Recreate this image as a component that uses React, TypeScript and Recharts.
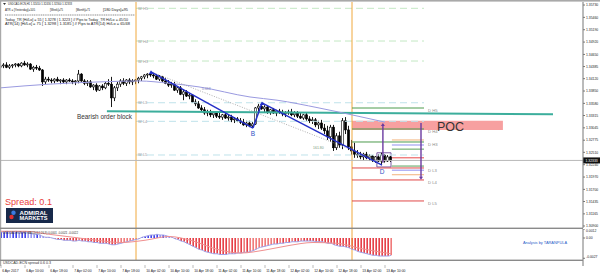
import React from 'react'
import { ComposedChart, Bar, Line, XAxis, YAxis, ReferenceLine, ReferenceArea, ReferenceDot, Cell } from 'recharts'

const FONT = '"Liberation Sans", Arial, sans-serif'

// bar index range shown on the x axis (plot is 583px wide, 3px per bar)
const X_DOMAIN: [number, number] = [2 / 3, 195]
const PRICE_DOMAIN: [number, number] = [1.30856, 1.35796]
const MACD_DOMAIN: [number, number] = [-0.00293, 0.0012]
const FIRST_BAR = 1

// USDCAD H1 candles: [open, high, low, close]
const candles: number[][] = [
  [1.3437, 1.3444, 1.3433, 1.3440], [1.3440, 1.3446, 1.3435, 1.3442], [1.3442, 1.3448, 1.3435, 1.3437], [1.3437, 1.3444, 1.3433, 1.3440],
  [1.3440, 1.3444, 1.3435, 1.3442], [1.3442, 1.3446, 1.3437, 1.3444], [1.3444, 1.3446, 1.3437, 1.3440], [1.3440, 1.3448, 1.3437, 1.3446],
  [1.3446, 1.3451, 1.3440, 1.3442], [1.3442, 1.3448, 1.3437, 1.3444], [1.3444, 1.3446, 1.3431, 1.3433], [1.3433, 1.3440, 1.3427, 1.3437],
  [1.3437, 1.3442, 1.3431, 1.3435], [1.3435, 1.3440, 1.3429, 1.3431], [1.3431, 1.3433, 1.3396, 1.3405], [1.3405, 1.3416, 1.3400, 1.3411],
  [1.3411, 1.3416, 1.3405, 1.3409], [1.3409, 1.3413, 1.3402, 1.3407], [1.3407, 1.3413, 1.3402, 1.3411], [1.3411, 1.3416, 1.3405, 1.3407],
  [1.3407, 1.3411, 1.3400, 1.3409], [1.3409, 1.3413, 1.3402, 1.3405], [1.3405, 1.3411, 1.3400, 1.3409], [1.3409, 1.3413, 1.3405, 1.3407],
  [1.3407, 1.3411, 1.3400, 1.3405], [1.3405, 1.3409, 1.3398, 1.3407], [1.3407, 1.3431, 1.3402, 1.3422], [1.3422, 1.3424, 1.3405, 1.3407],
  [1.3407, 1.3411, 1.3398, 1.3402], [1.3402, 1.3409, 1.3396, 1.3405], [1.3405, 1.3409, 1.3392, 1.3394], [1.3394, 1.3400, 1.3387, 1.3398],
  [1.3398, 1.3402, 1.3383, 1.3387], [1.3387, 1.3398, 1.3385, 1.3396], [1.3396, 1.3400, 1.3387, 1.3392], [1.3392, 1.3405, 1.3389, 1.3402],
  [1.3402, 1.3411, 1.3396, 1.3400], [1.3400, 1.3416, 1.3350, 1.3370], [1.3370, 1.3396, 1.3363, 1.3392], [1.3392, 1.3405, 1.3385, 1.3400],
  [1.3400, 1.3411, 1.3394, 1.3407], [1.3407, 1.3413, 1.3398, 1.3402], [1.3402, 1.3411, 1.3396, 1.3409], [1.3409, 1.3413, 1.3400, 1.3405],
  [1.3405, 1.3411, 1.3398, 1.3407], [1.3407, 1.3411, 1.3400, 1.3409], [1.3409, 1.3416, 1.3402, 1.3413], [1.3413, 1.3418, 1.3407, 1.3416],
  [1.3416, 1.3422, 1.3411, 1.3420], [1.3420, 1.3424, 1.3413, 1.3422], [1.3422, 1.3427, 1.3416, 1.3420], [1.3420, 1.3424, 1.3413, 1.3418],
  [1.3418, 1.3422, 1.3409, 1.3411], [1.3411, 1.3420, 1.3407, 1.3416], [1.3416, 1.3418, 1.3405, 1.3407], [1.3407, 1.3413, 1.3400, 1.3402],
  [1.3402, 1.3409, 1.3394, 1.3398], [1.3398, 1.3405, 1.3392, 1.3400], [1.3400, 1.3405, 1.3385, 1.3387], [1.3387, 1.3396, 1.3381, 1.3392],
  [1.3392, 1.3396, 1.3376, 1.3378], [1.3378, 1.3389, 1.3365, 1.3383], [1.3383, 1.3387, 1.3372, 1.3374], [1.3374, 1.3381, 1.3367, 1.3376],
  [1.3376, 1.3378, 1.3359, 1.3361], [1.3361, 1.3367, 1.3352, 1.3357], [1.3357, 1.3363, 1.3346, 1.3348], [1.3348, 1.3354, 1.3339, 1.3344],
  [1.3344, 1.3350, 1.3333, 1.3337], [1.3337, 1.3344, 1.3330, 1.3339], [1.3339, 1.3344, 1.3328, 1.3333], [1.3333, 1.3341, 1.3326, 1.3337],
  [1.3337, 1.3339, 1.3326, 1.3330], [1.3330, 1.3337, 1.3324, 1.3328], [1.3328, 1.3335, 1.3322, 1.3333], [1.3333, 1.3337, 1.3324, 1.3326],
  [1.3326, 1.3333, 1.3320, 1.3328], [1.3328, 1.3333, 1.3317, 1.3322], [1.3322, 1.3328, 1.3315, 1.3324], [1.3324, 1.3328, 1.3317, 1.3320],
  [1.3320, 1.3326, 1.3313, 1.3317], [1.3317, 1.3324, 1.3309, 1.3311], [1.3311, 1.3320, 1.3306, 1.3315], [1.3315, 1.3320, 1.3306, 1.3309],
  [1.3309, 1.3317, 1.3304, 1.3313], [1.3313, 1.3350, 1.3311, 1.3348], [1.3348, 1.3357, 1.3341, 1.3352], [1.3352, 1.3359, 1.3344, 1.3346],
  [1.3346, 1.3354, 1.3337, 1.3350], [1.3350, 1.3352, 1.3335, 1.3339], [1.3339, 1.3346, 1.3333, 1.3344], [1.3344, 1.3348, 1.3335, 1.3337],
  [1.3337, 1.3344, 1.3330, 1.3341], [1.3341, 1.3346, 1.3335, 1.3339], [1.3339, 1.3344, 1.3330, 1.3335], [1.3335, 1.3341, 1.3328, 1.3337],
  [1.3337, 1.3344, 1.3333, 1.3339], [1.3339, 1.3346, 1.3330, 1.3333], [1.3333, 1.3341, 1.3328, 1.3337], [1.3337, 1.3341, 1.3326, 1.3330],
  [1.3330, 1.3337, 1.3324, 1.3326], [1.3326, 1.3335, 1.3322, 1.3333], [1.3333, 1.3337, 1.3320, 1.3324], [1.3324, 1.3330, 1.3315, 1.3320],
  [1.3320, 1.3328, 1.3313, 1.3322], [1.3322, 1.3326, 1.3306, 1.3311], [1.3311, 1.3320, 1.3302, 1.3315], [1.3315, 1.3322, 1.3300, 1.3304],
  [1.3304, 1.3313, 1.3291, 1.3298], [1.3298, 1.3309, 1.3278, 1.3285], [1.3285, 1.3311, 1.3274, 1.3306], [1.3306, 1.3311, 1.3254, 1.3261],
  [1.3261, 1.3293, 1.3256, 1.3287], [1.3287, 1.3296, 1.3261, 1.3267], [1.3267, 1.3326, 1.3258, 1.3320], [1.3320, 1.3328, 1.3291, 1.3300],
  [1.3300, 1.3309, 1.3256, 1.3263], [1.3263, 1.3278, 1.3245, 1.3254], [1.3254, 1.3272, 1.3239, 1.3247], [1.3247, 1.3256, 1.3239, 1.3245],
  [1.3245, 1.3252, 1.3236, 1.3241], [1.3241, 1.3250, 1.3234, 1.3247], [1.3247, 1.3252, 1.3236, 1.3239], [1.3239, 1.3247, 1.3232, 1.3243],
  [1.3243, 1.3245, 1.3230, 1.3234], [1.3234, 1.3243, 1.3228, 1.3241], [1.3241, 1.3247, 1.3230, 1.3232], [1.3232, 1.3250, 1.3223, 1.3245],
  [1.3245, 1.3247, 1.3228, 1.3232], [1.3232, 1.3245, 1.3230, 1.3241], [1.3241, 1.3243, 1.3230, 1.32333],
]

// MACD histogram, one value per candle
const macdHist = [
  0.0008, 0.0008, 0.0009, 0.0008, 0.0008, 0.0009, 0.0008, 0.0008, 0.0008, 0.0007,
  0.0006, 0.0005, 0.0005, 0.0004, 0.0002, 0.0001, 0.0001, 0.0000,
  -0.0001, -0.0002, -0.0002, -0.0003, -0.0003, -0.0003, -0.0004, -0.0004, -0.0003, -0.0004,
  -0.0004, -0.0005, -0.0005, -0.0006, -0.0006, -0.0007, -0.0007, -0.0007, -0.0008, -0.0009,
  -0.0009, -0.0008, -0.0007, -0.0006, -0.0005, -0.0004, -0.0003, -0.0002,
  -0.0001, 0.0001, 0.0002, 0.0003, 0.0004, 0.0004, 0.0005, 0.0004, 0.0004, 0.0003, 0.0002, 0.0001,
  -0.0001, -0.0002, -0.0004, -0.0005, -0.0007, -0.0009, -0.0011, -0.0013,
  -0.0015, -0.0016, -0.0018, -0.0019, -0.0020, -0.0021, -0.0021, -0.0022, -0.0022, -0.0022, -0.0021, -0.0021,
  -0.0021, -0.0020, -0.0020, -0.0019, -0.0019, -0.0018, -0.0017, -0.0015, -0.0013, -0.0012, -0.0011, -0.0010, -0.0009, -0.0008,
  -0.0008, -0.0007, -0.0007, -0.0006, -0.0006, -0.0005, -0.0005, -0.0005, -0.0004, -0.0004, -0.0004, -0.0004, -0.0004,
  -0.0005, -0.0005, -0.0005, -0.0006, -0.0007,
  -0.0007, -0.0009, -0.0010, -0.0011, -0.0011, -0.0012, -0.0013, -0.0015,
  -0.0016, -0.0018, -0.0019, -0.0020, -0.0021, -0.0022, -0.0023, -0.0023, -0.0024, -0.0024, -0.0024, -0.0024, -0.0023,
]

const macdSignal = [
  { i: 1, v: 0.0009 }, { i: 9, v: 0.0009 }, { i: 17, v: 0.0005 }, { i: 25, v: 0.0001 }, { i: 33, v: -0.0003 },
  { i: 41, v: -0.0006 }, { i: 49, v: -0.0003 }, { i: 57, v: 0.0002 }, { i: 65, v: -0.0004 }, { i: 73, v: -0.0015 },
  { i: 81, v: -0.002 }, { i: 89, v: -0.0016 }, { i: 97, v: -0.001 }, { i: 105, v: -0.0006 }, { i: 113, v: -0.0007 },
  { i: 121, v: -0.0014 }, { i: 131, v: -0.0021 },
]

// slow moving average (lavender)
const maPoints = [
  { i: 1, v: 1.3392 }, { i: 17, v: 1.34 }, { i: 34, v: 1.3405 }, { i: 47, v: 1.3407 }, { i: 57, v: 1.3402 },
  { i: 67, v: 1.3394 }, { i: 84, v: 1.3372 }, { i: 93, v: 1.3365 }, { i: 107, v: 1.3348 }, { i: 120, v: 1.333 },
  { i: 129, v: 1.3317 },
]

const priceTicks = [
  1.3573, 1.3546, 1.3519, 1.3492, 1.3465, 1.34385, 1.3412, 1.3385, 1.3358, 1.33315,
  1.33045, 1.32775, 1.3251, 1.3224, 1.3197, 1.317, 1.31435, 1.31165, 1.309,
]
const macdTicks = [0.0012, 0, -0.0027]

const timeTicks = [1, 9, 17, 25, 33, 41, 49, 57, 65, 73, 81, 89, 97, 105, 113, 121, 129]
const timeLabels = [
  '6 Apr 2017', '6 Apr 10:00', '6 Apr 18:00', '7 Apr 02:00', '7 Apr 10:00', '7 Apr 18:00',
  '10 Apr 02:00', '10 Apr 10:00', '10 Apr 18:00', '11 Apr 02:00', '11 Apr 10:00', '11 Apr 18:00',
  '12 Apr 02:00', '12 Apr 10:00', '12 Apr 18:00', '13 Apr 02:00', '13 Apr 10:00',
]

// session separators (bar index)
const WEEK_START = 46
const DAY_START = 118
const LEVEL_END = 142

const weekPivots = [
  { name: 'W H5', price: 1.35658 }, { name: 'W H4', price: 1.34943 }, { name: 'W H3', price: 1.34506 },
  { name: 'W L3', price: 1.33594 }, { name: 'W L4', price: 1.33188 }, { name: 'W L5', price: 1.32452 },
]
const dayPivots = [
  { name: 'D H5', price: 1.33479 }, { name: 'D H4', price: 1.3302 }, { name: 'D H3', price: 1.32736 },
  { name: 'D L3', price: 1.32168 }, { name: 'D L4', price: 1.31906 }, { name: 'D L5', price: 1.31447 },
]
const atrLevels = [
  { price: 1.3278, color: '#f2b27a' }, { price: 1.3267, color: '#8f8ff0' }, { price: 1.3258, color: '#5aa05a' },
  { price: 1.3239, color: '#e84848' }, { price: 1.3221, color: '#5aa05a' }, { price: 1.3212, color: '#8f8ff0' },
  { price: 1.3202, color: '#f2b27a' },
]

// harmonic pattern pivots
const pX = { i: 51, p: 1.3427 }
const pB = { i: 85, p: 1.3304 }
const pC = { i: 88, p: 1.3359 }
const pD = { i: 128, p: 1.3223 }
const orderBlock = [{ i: 36.3, p: 1.3341 }, { i: 185, p: 1.3334 }]
const poc = { i1: 118, i2: 168.3, p1: 1.33, p2: 1.332 }
const dBox = { i1: 126.3, i2: 131, p1: 1.3219, p2: 1.325 }
const targetUp = [{ i: 128.3, p: 1.3228 }, { i: 128.3, p: 1.3315 }]
const targetDown = [{ i: 141, p: 1.3315 }, { i: 141, p: 1.3191 }]

const candleData = candles.map((c, k) => ({ i: FIRST_BAR + k, o: c[0], h: c[1], l: c[2], c: c[3], hl: [c[2], c[1]] }))
const macdData = macdHist.map((h, k) => ({ i: FIRST_BAR + k, h }))
const lastClose = candles[candles.length - 1][3]

const histColor = (k: number) => {
  const h = macdHist[k]
  const prev = k > 0 ? macdHist[k - 1] : h
  if (h >= 0) return h >= prev ? '#1414e6' : '#7c7cf2'
  return h <= prev ? '#e0101a' : '#ec5a5a'
}

function Candle(props: any) {
  const { x, y, width, height, payload } = props
  if (x == null || payload == null) return null
  const top = Math.min(y, y + height)
  const span = Math.abs(height)
  const cx = x + width / 2
  const range = payload.h - payload.l
  const at = (p: number) => (range > 0 ? top + ((payload.h - p) / range) * span : top)
  const bTop = at(Math.max(payload.o, payload.c))
  const bBot = at(Math.min(payload.o, payload.c))
  const up = payload.c >= payload.o
  return (
    <g>
      <line x1={cx} x2={cx} y1={top} y2={top + span} stroke="#000" strokeWidth={0.9} />
      <rect x={cx - 1.1} y={bTop} width={2.2} height={Math.max(bBot - bTop, 0.7)} fill={up ? '#fff' : '#000'} stroke="#000" strokeWidth={0.6} />
    </g>
  )
}

function Arrow(props: any) {
  const { x1, y1, x2, y2 } = props
  const dir = y2 < y1 ? 1 : -1
  return (
    <g>
      <line x1={x1} y1={y1} x2={x2} y2={y2 + dir * 2} stroke="#6b3aa0" strokeWidth={1.4} />
      <path d={`M${x2 - 2},${y2 + dir * 3} L${x2 + 2},${y2 + dir * 3} L${x2},${y2} Z`} fill="#6b3aa0" />
    </g>
  )
}

const tag = (text: string, dx: number, dy: number, size: number, color: string) => ({
  content: (p: any) => (
    <text x={p.viewBox.x + dx} y={p.viewBox.y + dy} fontSize={size} fill={color} fontFamily={FONT}>{text}</text>
  ),
})

const Marker = (p: any) => (
  <path d={`M${p.cx - 2.2},${p.cy + 2.2} L${p.cx + 2.2},${p.cy + 2.2} L${p.cx},${p.cy - 1.5} Z`} fill="#2530c8" />
)

function TimeTick(p: any) {
  const k = timeTicks.indexOf(p.payload.value)
  return (
    <g>
      <line x1={p.x} x2={p.x} y1={p.y - 1} y2={p.y + 2} stroke="#777" strokeWidth={0.5} />
      <text x={p.x + 1.2} y={p.y + 6.3} fontSize={3.4} fill="#222" fontFamily={FONT}>{timeLabels[k]}</text>
    </g>
  )
}

// keep the top MACD label inside the panel
function MacdTick(p: any) {
  const v = p.payload.value
  const shift = v > 0 ? 2 : v < 0 ? -1 : 0
  return (
    <text x={p.x} y={p.y + shift + 1.2} fontSize={3.4} fill="#222" fontFamily={FONT}>
      {v === 0 ? '0.00' : v.toFixed(4)}
    </text>
  )
}

const seg = (a: { i: number; p: number }, b: { i: number; p: number }) =>
  [{ x: a.i, y: a.p }, { x: b.i, y: b.p }] as any

export default function App() {
  return (
    <div style={{ position: 'absolute', left: 0, top: 0, width: 600, height: 276, background: '#fff', overflow: 'hidden', fontFamily: FONT }}>
      <div style={{ position: 'absolute', left: 0, top: 0 }}>
        <ComposedChart width={600} height={228} data={candleData} margin={{ top: 2, right: 0, bottom: 0, left: 0 }}>
          <XAxis type="number" dataKey="i" domain={X_DOMAIN} hide allowDataOverflow />
          <YAxis
            orientation="right" width={17} domain={PRICE_DOMAIN} allowDataOverflow ticks={priceTicks} interval={0}
            tickFormatter={(v: number) => v.toFixed(5)} tick={{ fontSize: 3.4, fill: '#222', fontFamily: FONT }}
            tickSize={2} tickMargin={1} axisLine={{ stroke: '#777' }} tickLine={{ stroke: '#777' }}
          />
          <ReferenceArea x1={poc.i1} x2={poc.i2} y1={poc.p1} y2={poc.p2} fill="#f7a0a0" fillOpacity={1} stroke="none" />
          {weekPivots.map((w, k) => (
            <ReferenceLine key={w.name} segment={seg({ i: WEEK_START, p: w.price }, { i: LEVEL_END, p: w.price })}
              stroke={k < 3 ? '#c4e8c4' : '#bfe2ea'} strokeDasharray="7 4" strokeWidth={1} />
          ))}
          {weekPivots.map((w) => (
            <ReferenceDot key={w.name + 't'} x={WEEK_START} y={w.price} r={0} fill="none" stroke="none" label={tag(w.name, 2, 1.5, 4, '#9a9a9a')} />
          ))}
          <ReferenceLine x={WEEK_START} stroke="#f0a83c" strokeWidth={1} />
          <ReferenceLine x={DAY_START} stroke="#f0a83c" strokeWidth={1} />
          {dayPivots.map((d, k) => (
            <ReferenceLine key={d.name} segment={seg({ i: DAY_START, p: d.price }, { i: LEVEL_END, p: d.price })}
              stroke={k < 3 ? '#4c9b4c' : '#e04848'} strokeWidth={1} />
          ))}
          {dayPivots.map((d) => (
            <ReferenceDot key={d.name + 't'} x={LEVEL_END} y={d.price} r={0} fill="none" stroke="none" label={tag(d.name, 4, 4.3, 4.2, '#8a8a8a')} />
          ))}
          {atrLevels.map((a, k) => (
            <ReferenceLine key={'atr' + k} segment={seg({ i: 131.3, p: a.price }, { i: LEVEL_END, p: a.price })} stroke={a.color} strokeWidth={1} />
          ))}
          <ReferenceLine y={lastClose} stroke="#b8b8b8" strokeWidth={1}
            label={{
              content: (p: any) => (
                <g>
                  <rect x={p.viewBox.x + p.viewBox.width} y={p.viewBox.y - 3} width={17} height={6} fill="#111" />
                  <text x={p.viewBox.x + p.viewBox.width + 2.5} y={p.viewBox.y + 1.3} fontSize={3.4} fill="#fff" fontFamily={FONT}>{lastClose.toFixed(5)}</text>
                </g>
              ),
            }}
          />
          <ReferenceLine segment={seg(orderBlock[0], orderBlock[1])} stroke="#3cae9c" strokeWidth={2} />
          <Line data={maPoints} dataKey="v" type="monotone" stroke="#9a9ae0" strokeWidth={1} dot={false} isAnimationActive={false} />
          <ReferenceLine segment={seg(pX, { i: 129, p: 1.3228 })} stroke="#9a9a9a" strokeDasharray="1 1.5" strokeWidth={0.8} />
          <Bar dataKey="hl" barSize={2} shape={(p: any) => <Candle {...p} />} isAnimationActive={false} />
          <ReferenceLine segment={seg(pX, pB)} stroke="#2530c8" strokeWidth={1.5} />
          <ReferenceLine segment={seg(pB, pC)} stroke="#2530c8" strokeWidth={1.5} />
          <ReferenceLine segment={seg(pC, pD)} stroke="#2530c8" strokeWidth={1.5} />
          <ReferenceDot x={pX.i} y={pX.p} r={2} shape={Marker} />
          <ReferenceDot x={pC.i} y={pC.p} r={2} shape={Marker} />
          <ReferenceDot x={pB.i} y={pB.p} r={0} fill="none" stroke="none" label={tag('B', -2.3, 7.5, 6.5, '#2e4fc4')} />
          <ReferenceDot x={pD.i} y={pD.p} r={0} fill="none" stroke="none" label={tag('D', -2.3, 8.5, 6.5, '#2e4fc4')} />
          <ReferenceDot x={105} y={1.3261} r={0} fill="none" stroke="none" label={tag('161.80', 0, 1.3, 3.5, '#7a9a7a')} />
          <ReferenceDot x={67} y={1.3389} r={0} fill="none" stroke="none" label={tag('0.618', 3, 1.2, 3.5, '#8888bb')} />
          <ReferenceArea x1={dBox.i1} x2={dBox.i2} y1={dBox.p1} y2={dBox.p2} fill="none" stroke="#7a5aa0" strokeWidth={1} />
          <ReferenceLine segment={seg(targetUp[0], targetUp[1])} shape={(p: any) => <Arrow {...p} />} />
          <ReferenceLine segment={seg(targetDown[0], targetDown[1])} shape={(p: any) => <Arrow {...p} />} />
        </ComposedChart>
      </div>

      <div style={{ position: 'absolute', left: 0, top: 229 }}>
        <ComposedChart width={600} height={31} data={macdData} margin={{ top: 0, right: 0, bottom: 0, left: 0 }}>
          <XAxis type="number" dataKey="i" domain={X_DOMAIN} hide allowDataOverflow />
          <YAxis
            orientation="right" width={17} domain={MACD_DOMAIN} allowDataOverflow ticks={macdTicks} interval={0}
            tick={(p: any) => <MacdTick {...p} />}
            tickSize={2} tickMargin={1} axisLine={{ stroke: '#777' }} tickLine={{ stroke: '#777' }}
          />
          <ReferenceLine x={WEEK_START} stroke="#f0a83c" strokeWidth={1} />
          <ReferenceLine x={DAY_START} stroke="#f0a83c" strokeWidth={1} />
          <Bar dataKey="h" barSize={1.3} isAnimationActive={false}>
            {macdData.map((d, k) => <Cell key={d.i} fill={histColor(k)} />)}
          </Bar>
          <Line dataKey="h" type="monotone" stroke="#a0a0e6" strokeWidth={1} dot={false} isAnimationActive={false} />
          <Line data={macdSignal} dataKey="v" type="monotone" stroke="#f09090" strokeWidth={1} dot={false} isAnimationActive={false} />
        </ComposedChart>
      </div>

      <div style={{ position: 'absolute', left: 0, top: 260 }}>
        <ComposedChart width={600} height={16} data={candleData} margin={{ top: 0, right: 0, bottom: 0, left: 0 }}>
          <XAxis type="number" dataKey="i" domain={X_DOMAIN} allowDataOverflow ticks={timeTicks} interval={0}
            height={10} axisLine={false} tickLine={false} tickSize={0} tickMargin={0} tick={(p: any) => <TimeTick {...p} />} />
          <YAxis orientation="right" width={17} domain={[-0.1, 1]} tick={false} tickLine={false} axisLine={{ stroke: '#777' }} />
          <ReferenceLine x={WEEK_START} stroke="#f0a83c" strokeWidth={1} />
          <ReferenceLine x={DAY_START} stroke="#f0a83c" strokeWidth={1} />
          <ReferenceLine y={0} stroke="#d87070" strokeWidth={1}
            label={{
              content: (p: any) => (
                <rect x={p.viewBox.x + p.viewBox.width + 1} y={p.viewBox.y - 2.5} width={8} height={5} fill="#e02020" />
              ),
            }}
          />
        </ComposedChart>
      </div>

      <svg width={600} height={276} style={{ position: 'absolute', left: 0, top: 0, pointerEvents: 'none' }} fontFamily={FONT}>
        <rect x={0} y={0} width={600} height={1.6} fill="#a9a9a9" />
        <rect x={0} y={0} width={1.2} height={266} fill="#a9a9a9" />
        <rect x={0} y={227.6} width={583} height={1.4} fill="#8a8a8a" />
        <rect x={0} y={259.6} width={583} height={1.4} fill="#8a8a8a" />

        <path d="M3,3 L6,3 L4.5,5 Z" fill="#333" />
        <text x={8} y={5.3} fontSize={3.3} fill="#222" textLength={64} lengthAdjust="spacingAndGlyphs">USDCAD-ECN,H1  1.32410 1.32430 1.32300 1.32333</text>
        <text x={5} y={11} fontSize={3.3} fill="#222" textLength={30} lengthAdjust="spacingAndGlyphs">ATR = [Yesterday]=105</text>
        <text x={50} y={11} fontSize={3.3} fill="#222" textLength={13} lengthAdjust="spacingAndGlyphs">[Week]=75</text>
        <text x={76} y={11} fontSize={3.3} fill="#222" textLength={14} lengthAdjust="spacingAndGlyphs">[Month]=71</text>
        <text x={103} y={11} fontSize={3.3} fill="#222" textLength={25} lengthAdjust="spacingAndGlyphs">[180 Days]=95</text>
        <line x1={5} x2={135} y1={15} y2={15} stroke="#444" strokeWidth={0.6} strokeDasharray="1.2 0.6" />
        <text x={5} y={20.5} fontSize={3.3} fill="#222" textLength={123} lengthAdjust="spacingAndGlyphs">Today_TR [Hi/Lo] = 55 [ 1.3278 | 1.3223 ]   // Pips to Today_TR Hi/Lo = 45/10</text>
        <text x={5} y={24.8} fontSize={3.3} fill="#222" textLength={125} lengthAdjust="spacingAndGlyphs">ATR(14)     [Hi/Lo] = 75 [ 1.3298 | 1.3185 ]   // Pips to ATR(14) Hi/Lo = 65/48</text>

        <text x={77} y={119} fontSize={6.3} fill="#333" textLength={55} lengthAdjust="spacingAndGlyphs">Bearish order block</text>
        <text x={437} y={130.5} fontSize={12.5} fill="#333">POC</text>

        <text x={5} y={204.5} fontSize={8.5} fill="#e8403c" textLength={47} lengthAdjust="spacingAndGlyphs">Spread:  0.1</text>
        <rect x={6} y={208} width={47} height={15} fill="#17294a" />
        <circle cx={13.5} cy={212.8} r={2.2} fill="#3b7be0" />
        <circle cx={11.5} cy={217} r={2.2} fill="#e03030" />
        <text x={19.5} y={214.6} fontSize={4.6} fontWeight="bold" fill="#fff" textLength={28} lengthAdjust="spacingAndGlyphs">ADMIRAL</text>
        <text x={19.5} y={220} fontSize={4.6} fontWeight="bold" fill="#fff" textLength={28} lengthAdjust="spacingAndGlyphs">MARKETS</text>

        <text x={3} y={233.6} fontSize={3.3} fill="#333" textLength={75} lengthAdjust="spacingAndGlyphs">USDCAD-ECN,H1 MACD(12,26,9) 0.0001 -0.0021 -0.0022</text>
        <text x={523} y={243.5} fontSize={4} fill="#2a5cc8" textLength={44} lengthAdjust="spacingAndGlyphs">Analysis by TARANPULA</text>
        <text x={3} y={264.4} fontSize={3.2} fill="#333" textLength={48} lengthAdjust="spacingAndGlyphs">USDCAD-ECN spread 0.6 0.3</text>
      </svg>
    </div>
  )
}
